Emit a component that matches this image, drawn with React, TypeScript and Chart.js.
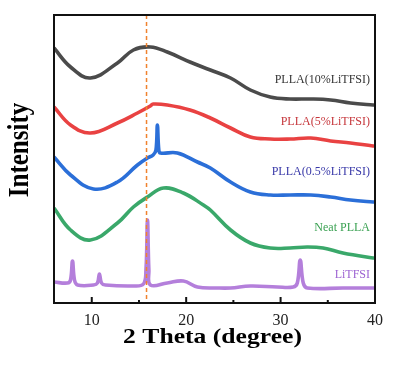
import React, { useEffect, useRef } from "react";
import { Chart, registerables } from "chart.js";

Chart.register(...registerables);

// x-axis (2 Theta, degree)
const X_MIN = 6;
const X_MAX = 40;
const X_TICKS = [10, 20, 30, 40];
const X_MINOR_TICKS = [15, 25, 35];
const REF_LINE_X = 15.8;

// PLLA(10%LiTFSI)
const x10 = [6, 7.75, 9.86, 12.72, 14.41, 16.2, 18.0, 20.4, 22.56, 24.7, 26.8, 28.9, 31.0, 33.2, 35.3, 37.4, 39.8, 40];
const y10 = [256, 237, 226, 241, 254, 257, 252, 242, 234, 226, 214, 207, 205, 205, 204, 201, 199, 199];

// PLLA(5%LiTFSI)
const x5 = [6, 7.75, 9.86, 12.72, 14.84, 16.2, 16.5, 18.0, 20.4, 22.56, 24.7, 26.8, 28.9, 31.0, 33.2, 35.3, 37.4, 39.8, 40];
const y5 = [197, 179, 171, 181, 191, 198, 200, 199, 194, 186, 176, 167, 165, 165, 166, 163, 161, 158, 158];

// PLLA(0.5%LiTFSI)
const x05 = [6, 7.75, 10.18, 12.72, 14.84, 15.9, 16.5, 16.8, 16.95, 17.1, 17.27, 19.07, 21.19, 22.56, 24.7, 26.8, 28.9, 31.0, 33.2, 35.3, 37.4, 39.8, 40];
const y05 = [147, 129, 115, 122, 139, 146, 149, 154, 179, 154, 151, 151, 142, 136, 122, 112, 109, 109, 109, 107, 104, 102, 102];

// Neat PLLA
const xNeat = [6, 7.75, 9.86, 12.72, 14.41, 15.9, 17.59, 19.7, 21.82, 22.56, 24.7, 26.8, 28.9, 31.0, 32.8, 34.5, 36.6, 39.8, 40];
const yNeat = [96, 74, 64, 81, 97, 107, 116, 111, 99, 94, 74, 61, 56, 56, 57, 56, 51, 46, 46];

// LiTFSI
const xLi = [6, 7.43, 7.75, 7.96, 8.17, 8.49, 10.18, 10.6, 10.81, 11.03, 11.45, 14.41, 15.47, 15.74, 15.9, 16.05, 16.21, 18.0, 19.7, 21.19, 23.3, 24.7, 26.8, 29.65, 31.34, 31.77, 32.08, 32.4, 32.83, 36.6, 39.8, 40];
const yLi = [22, 21, 24, 43, 24, 19, 19, 21, 30, 21, 19, 18, 20, 34, 84, 34, 19, 21, 23, 17, 16, 16, 18, 17, 17, 21, 44, 21, 16, 16, 16, 16];

const SERIES_NAMES = ["PLLA(10%LiTFSI)", "PLLA(5%LiTFSI)", "PLLA(0.5%LiTFSI)", "Neat PLLA", "LiTFSI"];
const LINE_COLORS = ["#4b4b4b", "#e94242", "#2b6fd8", "#3aa86a", "#b47fdb"];
const LABEL_COLORS = ["#333333", "#c6363b", "#3838a8", "#3aa152", "#9c62d2"];
const LABEL_Y_VALUES = [224, 182, 132, 76, 29];

const toPts = (xs: number[], ys: number[]) => xs.map((x, i) => ({ x, y: ys[i] }));

export default function App() {
  const ref = useRef<HTMLCanvasElement | null>(null);

  useEffect(() => {
    document.body.style.margin = "0";
    const canvas = ref.current;
    if (!canvas) return;

    const data = [toPts(x10, y10), toPts(x5, y5), toPts(x05, y05), toPts(xNeat, yNeat), toPts(xLi, yLi)];

    const decor = {
      id: "decor",
      afterDatasetsDraw(chart: any) {
        const { ctx, chartArea } = chart;
        const xs = chart.scales.x;
        const ys = chart.scales.y;
        ctx.save();
        // dashed reference line
        const rx = xs.getPixelForValue(REF_LINE_X);
        ctx.strokeStyle = "#f0822e";
        ctx.lineWidth = 1.5;
        ctx.setLineDash([4, 3]);
        ctx.beginPath();
        ctx.moveTo(rx, chartArea.top);
        ctx.lineTo(rx, chartArea.bottom);
        ctx.stroke();
        ctx.setLineDash([]);
        // frame
        ctx.strokeStyle = "#111";
        ctx.lineWidth = 2;
        ctx.strokeRect(chartArea.left, chartArea.top, chartArea.right - chartArea.left, chartArea.bottom - chartArea.top);
        // ticks (inward)
        X_TICKS.forEach((v) => {
          const px = xs.getPixelForValue(v);
          ctx.beginPath();
          ctx.moveTo(px, chartArea.bottom);
          ctx.lineTo(px, chartArea.bottom - 6);
          ctx.stroke();
        });
        X_MINOR_TICKS.forEach((v) => {
          const px = xs.getPixelForValue(v);
          ctx.beginPath();
          ctx.moveTo(px, chartArea.bottom);
          ctx.lineTo(px, chartArea.bottom - 3);
          ctx.stroke();
        });
        // series labels
        ctx.font = "12px 'Liberation Serif'";
        ctx.textAlign = "right";
        ctx.textBaseline = "middle";
        SERIES_NAMES.forEach((name, i) => {
          ctx.fillStyle = LABEL_COLORS[i];
          ctx.fillText(name, chartArea.right - 5, ys.getPixelForValue(LABEL_Y_VALUES[i]));
        });
        // axis titles
        ctx.fillStyle = "#000";
        ctx.textAlign = "center";
        ctx.font = "bold 21px 'Liberation Serif'";
        ctx.save();
        ctx.translate((chartArea.left + chartArea.right) / 2 - 2, 338);
        ctx.scale(1.22, 1);
        ctx.fillText("2 Theta (degree)", 0, 0);
        ctx.restore();
        ctx.save();
        ctx.translate(20, 150);
        ctx.rotate(-Math.PI / 2);
        ctx.scale(1, 1.2);
        ctx.font = "bold 25px 'Liberation Serif'";
        ctx.fillText("Intensity", 0, 0);
        ctx.restore();
        ctx.restore();
      },
    };

    const chart = new Chart(canvas, {
      type: "line",
      data: {
        datasets: data.map((d, i) => ({
          label: SERIES_NAMES[i],
          data: d,
          borderColor: LINE_COLORS[i],
          borderWidth: 3.6,
          pointRadius: 0,
          fill: false,
          tension: 0.4,
        })),
      },
      options: {
        animation: false,
        responsive: true,
        maintainAspectRatio: false,
        layout: { padding: { top: 15, right: 24, left: 0, bottom: 0 } },
        plugins: { legend: { display: false }, tooltip: { enabled: false } },
        scales: {
          x: {
            type: "linear",
            min: X_MIN,
            max: X_MAX,
            grid: { display: false },
            border: { display: false },
            afterBuildTicks: (s: any) => {
              s.ticks = X_TICKS.map((v) => ({ value: v }));
            },
            afterFit: (s: any) => {
              s.height = 68;
            },
            ticks: {
              padding: 0,
              color: "#222",
              font: { family: "'Liberation Serif'", size: 16 },
              maxRotation: 0,
            },
          },
          y: {
            type: "linear",
            min: 1,
            max: 289,
            grid: { display: false },
            border: { display: false },
            ticks: { display: false },
            afterFit: (s: any) => {
              s.width = 54;
            },
          },
        },
      },
      plugins: [decor],
    });

    return () => chart.destroy();
  }, []);

  return (
    <div style={{ position: "relative", width: 399, height: 371 }}>
      <canvas ref={ref} />
    </div>
  );
}
